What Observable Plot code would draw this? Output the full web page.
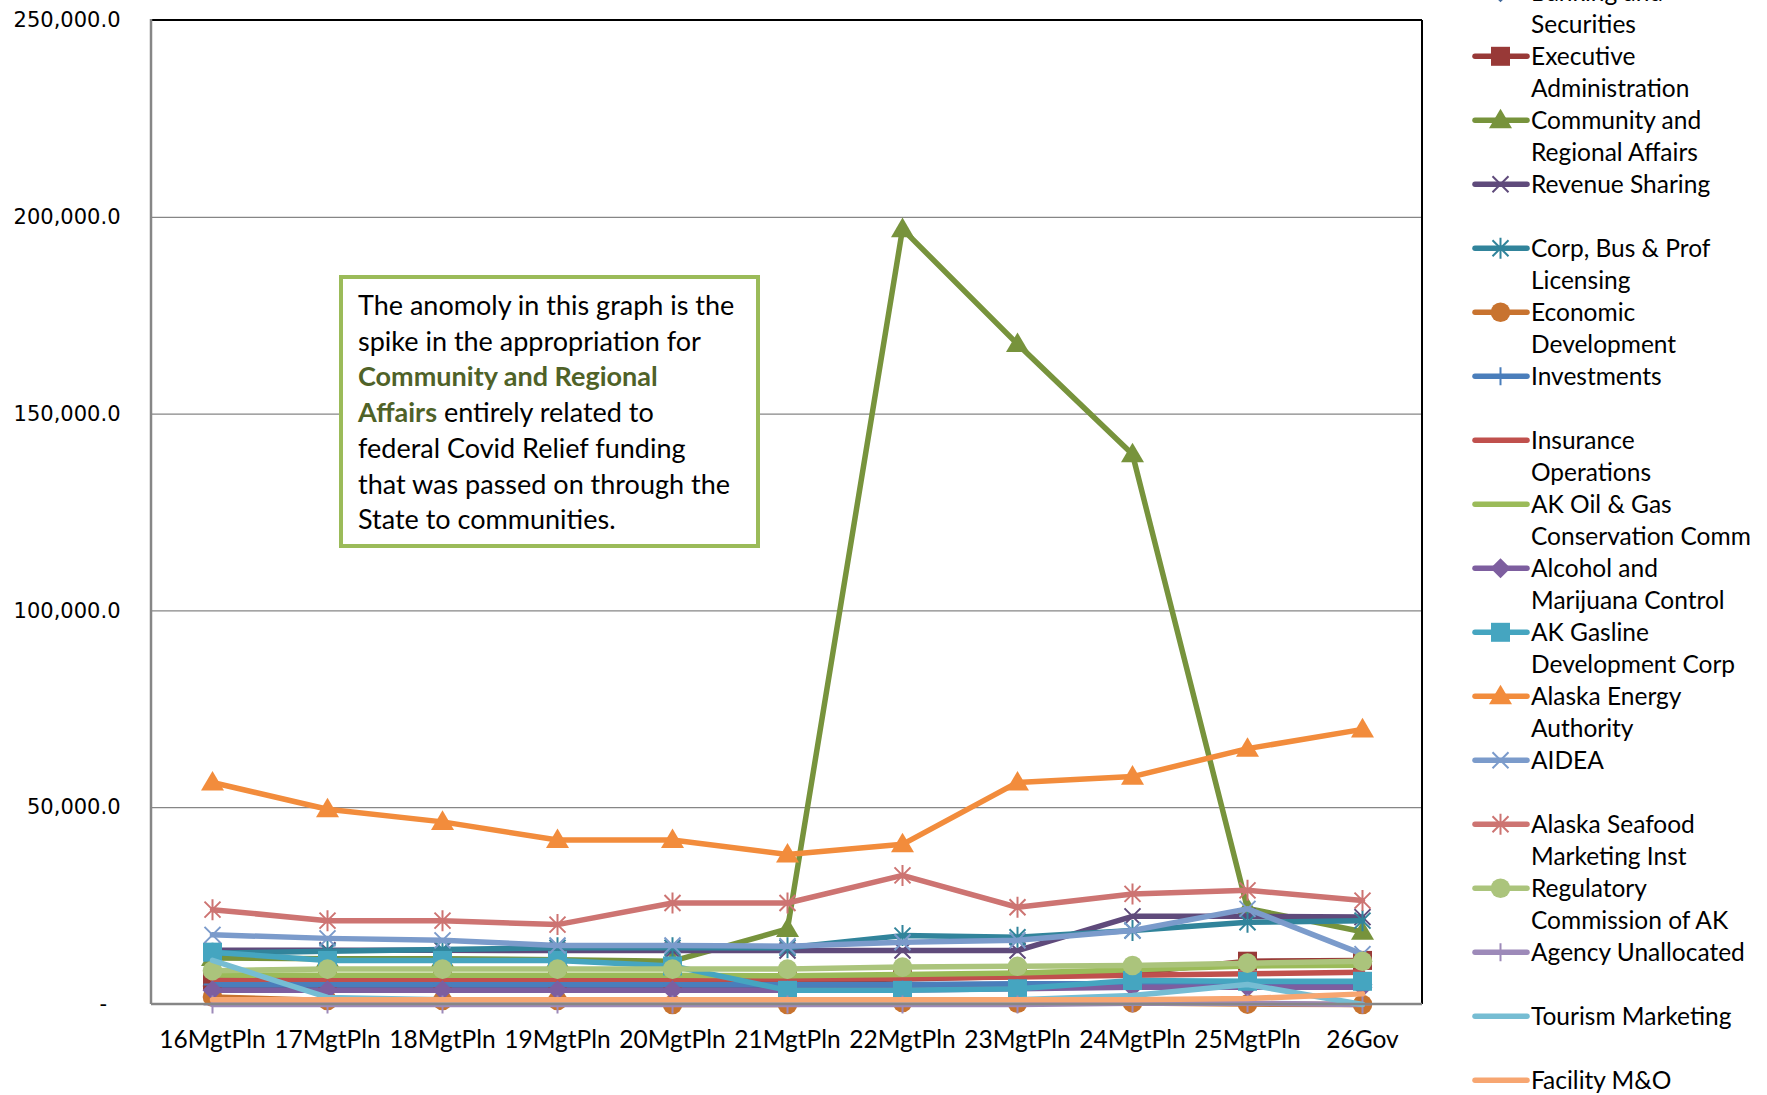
<!DOCTYPE html>
<html><head><meta charset="utf-8">
<script src="https://cdn.jsdelivr.net/npm/d3@7"></script>
<script src="https://cdn.jsdelivr.net/npm/@observablehq/plot@0.6"></script>
<style>
body{margin:0;background:#fff;}
#wrap{position:relative;width:1767px;height:1095px;overflow:hidden;font-family:Lato,sans-serif;}
#note{position:absolute;z-index:2;left:339px;top:275px;width:421px;height:273px;box-sizing:border-box;border:4px solid #9BBB59;background:#fff;padding:8px 4px 0 15px;font-size:27px;line-height:35.7px;color:#000;white-space:nowrap;}
#note b{color:#4F6228;}
</style></head><body>
<div id="wrap"><div id="note">The anomoly in this graph is the<br>spike in the appropriation for<br><b>Community and Regional</b><br><b>Affairs</b> entirely related to<br>federal Covid Relief funding<br>that was passed on through the<br>State to communities.</div></div>
<script>
const categories = ["16MgtPln","17MgtPln","18MgtPln","19MgtPln","20MgtPln","21MgtPln","22MgtPln","23MgtPln","24MgtPln","25MgtPln","26Gov"];
const yTicks = [0, 50000, 100000, 150000, 200000, 250000];

const seriesNames = ["Banking and Securities","Executive Administration","Community and Regional Affairs","Revenue Sharing","Corp, Bus & Prof Licensing","Economic Development","Investments","Insurance Operations","AK Oil & Gas Conservation Comm","Alcohol and Marijuana Control","AK Gasline Development Corp","Alaska Energy Authority","AIDEA","Alaska Seafood Marketing Inst","Regulatory Commission of AK","Agency Unallocated","Tourism Marketing","Facility M&O"];
const legendLines = [["Banking and","Securities"],["Executive","Administration"],["Community and","Regional Affairs"],["Revenue Sharing"],["Corp, Bus & Prof","Licensing"],["Economic","Development"],["Investments"],["Insurance","Operations"],["AK Oil & Gas","Conservation Comm"],["Alcohol and","Marijuana Control"],["AK Gasline","Development Corp"],["Alaska Energy","Authority"],["AIDEA"],["Alaska Seafood","Marketing Inst"],["Regulatory","Commission of AK"],["Agency Unallocated"],["Tourism Marketing"],["Facility M&O"]];

const banking     = [4700,4700,4700,4700,4700,4700,4800,4800,4900,5000,5000];
const executive   = [6000,6000,6000,6000,6000,6100,6500,7100,8000,11000,11200];
const community   = [11800,11600,11600,11400,11000,19200,197000,167800,139800,24400,18500];
const revenue     = [13800,13800,13800,13700,13700,13700,13700,13700,22400,22400,22200];
const corp        = [13000,13500,14000,14400,14400,14400,17500,17100,18800,20900,21300];
const economic    = [1900,1000,1000,1000,0,0,500,300,400,100,0];
const investments = [5100,5100,5100,5100,5100,5100,5100,5300,5300,5300,5300];
const insurance   = [6400,6400,6400,6400,6400,6500,6700,7000,7400,7800,8200];
const akOilGas    = [7500,7400,7400,7400,7400,7300,7600,8000,8800,9800,10000];
const alcohol     = [3600,3600,3600,3600,3600,3600,3700,4000,4400,4400,4400];
const gasline     = [13300,11200,11200,11200,9800,3600,3600,4000,6100,5900,5900];
const energy      = [56400,49600,46400,41800,41800,38100,40700,56400,57900,65000,69900];
const aidea       = [17700,16800,16300,15000,15000,14800,15800,16300,18800,24300,12800];
const seafood     = [24100,21300,21300,20300,25800,25800,32800,24700,28100,29000,26400];
const regulatory  = [8600,9000,9000,9000,9000,9000,9500,9700,9900,10500,11000];
const agency      = [0,0,0,0,0,0,0,0,300,300,0];
const tourism     = [11200,1800,1200,1200,1200,1200,1200,1200,2300,5100,0];
const facility    = [1200,1200,1200,1200,1200,1200,1200,1200,1200,1500,2700];

const seriesValues = [banking,executive,community,revenue,corp,economic,investments,insurance,akOilGas,alcohol,gasline,energy,aidea,seafood,regulatory,agency,tourism,facility];
const seriesColors = ["#41689B","#983937","#77933C","#5F4A7B","#31849B","#C8732F","#4A7EBB","#C0504D","#9BBB59","#7D5E9F","#45A5C0","#F28C3C","#7B9BCB","#CD7472","#ABC47C","#9D8AB9","#76BDD3","#F7A671"];
const seriesMarkers = ["diamond","square","triangle","x","star","circle","plus","none","none","diamond","square","triangle","x","star","circle","plus","none","none"];

const R = s => Math.sqrt(s / Math.PI);
const SYM = {
  diamond: {draw(c, s){const r=R(s); c.moveTo(0,-r); c.lineTo(r,0); c.lineTo(0,r); c.lineTo(-r,0); c.closePath();}},
  square: {draw(c, s){const r=R(s); c.rect(-r,-r,2*r,2*r);}},
  triangle: {draw(c, s){const r=R(s); c.moveTo(0,-r); c.lineTo(r,r*0.7); c.lineTo(-r,r*0.7); c.closePath();}},
  circle: {draw(c, s){const r=R(s); c.moveTo(r,0); c.arc(0,0,r,0,2*Math.PI);}},
  x: {draw(c, s){const r=R(s); c.moveTo(-r,-r); c.lineTo(r,r); c.moveTo(r,-r); c.lineTo(-r,r);}},
  star: {draw(c, s){const r=R(s); const d=r*0.8; c.moveTo(-d,-d); c.lineTo(d,d); c.moveTo(d,-d); c.lineTo(-d,d); c.moveTo(0,-r*1.05); c.lineTo(0,r*1.05);}},
  plus: {draw(c, s){const r=R(s); c.moveTo(0,-r); c.lineTo(0,r); c.moveTo(-r,0); c.lineTo(r,0);}}
};
const markerSize = {diamond:10, square:9.5, triangle:11.5, circle:9.8, x:8, star:10, plus:9};
const strokeSym = new Set(["x","star","plus"]);

const marks = [
  Plot.gridY(yTicks.filter(d => d > 0 && d < 250000), {stroke:"#868686", strokeOpacity:1, strokeWidth:1.3})
];
seriesNames.forEach((name, k) => {
  const rows = categories.map((c, i) => ({cat:c, v: seriesValues[k][i] == null ? NaN : seriesValues[k][i], series:name}));
  const col = seriesColors[k];
  marks.push(Plot.line(rows, {x:"cat", y:"v", stroke:col, strokeWidth:5.5, strokeLinejoin:"round", strokeLinecap:"round"}));
  const m = seriesMarkers[k];
  if (m !== "none") {
    if (strokeSym.has(m)) marks.push(Plot.dot(rows, {x:"cat", y:"v", symbol:SYM[m], r:markerSize[m], fill:"none", stroke:col, strokeWidth:2}));
    else marks.push(Plot.dot(rows, {x:"cat", y:"v", symbol:SYM[m], r:markerSize[m], fill:col, stroke:"none"}));
  }
});
marks.push(Plot.axisY(yTicks, {tickSize:0, tickPadding:31, fontSize:21, fontFamily:"DejaVu Sans", fill:"#000",
  tickFormat: d => d === 0 ? "-\u00a0\u00a0" : d3.format(",.1f")(d)}));
marks.push(Plot.axisX({tickSize:0, tickPadding:26, fontSize:24.5, fontFamily:"Lato", fill:"#000"}));

const plot = Plot.plot({
  width:1767, height:1095,
  marginLeft:151, marginRight:345, marginTop:20, marginBottom:91,
  style:{background:"#fff", fontFamily:"Lato", overflow:"visible"},
  x:{type:"point", domain:categories, padding:0.5, label:null},
  y:{domain:[0,250000], label:null},
  marks
});
document.getElementById("wrap").prepend(plot);

// frame: top/right dark, left/bottom gray axis lines
const svg = d3.select(plot);
const xr = plot.scale("x").range, ys = plot.scale("y");
const y0 = ys.apply(0), yTop = ys.apply(250000);
const g = svg.append("g");
g.append("line").attr("x1",xr[0]).attr("x2",xr[1]).attr("y1",yTop).attr("y2",yTop).attr("stroke","#000").attr("stroke-width",2);
g.append("line").attr("x1",xr[1]).attr("x2",xr[1]).attr("y1",yTop).attr("y2",y0).attr("stroke","#000").attr("stroke-width",2);
g.append("line").attr("x1",xr[0]).attr("x2",xr[0]).attr("y1",yTop-1).attr("y2",y0).attr("stroke","#868686").attr("stroke-width",2.5);
g.append("line").attr("x1",xr[0]).attr("x2",xr[1]).attr("y1",y0).attr("y2",y0).attr("stroke","#868686").attr("stroke-width",2.5);

// legend
const lg = svg.append("g").attr("font-family","Lato").attr("font-size",24.5).attr("fill","#000").attr("text-anchor","start");
seriesNames.forEach((name, k) => {
  const cy = 56.3 + (k - 1) * 64.0;
  const col = seriesColors[k];
  lg.append("line").attr("x1",1475).attr("x2",1527).attr("y1",cy).attr("y2",cy).attr("stroke",col).attr("stroke-width",5.5).attr("stroke-linecap","round");
  const m = seriesMarkers[k];
  if (m !== "none") {
    const r = markerSize[m];
    const p = lg.append("path").attr("transform",`translate(1500.5,${cy})`).attr("d", d3.symbol(SYM[m], r*r*Math.PI)());
    if (strokeSym.has(m)) p.attr("fill","none").attr("stroke",col).attr("stroke-width",2);
    else p.attr("fill",col);
  }
  legendLines[k].forEach((t, j) => {
    lg.append("text").attr("x",1531).attr("y",cy + j*32.0).attr("dy","0.35em").attr("text-anchor","start").text(t);
  });
});
</script>
</body></html>
